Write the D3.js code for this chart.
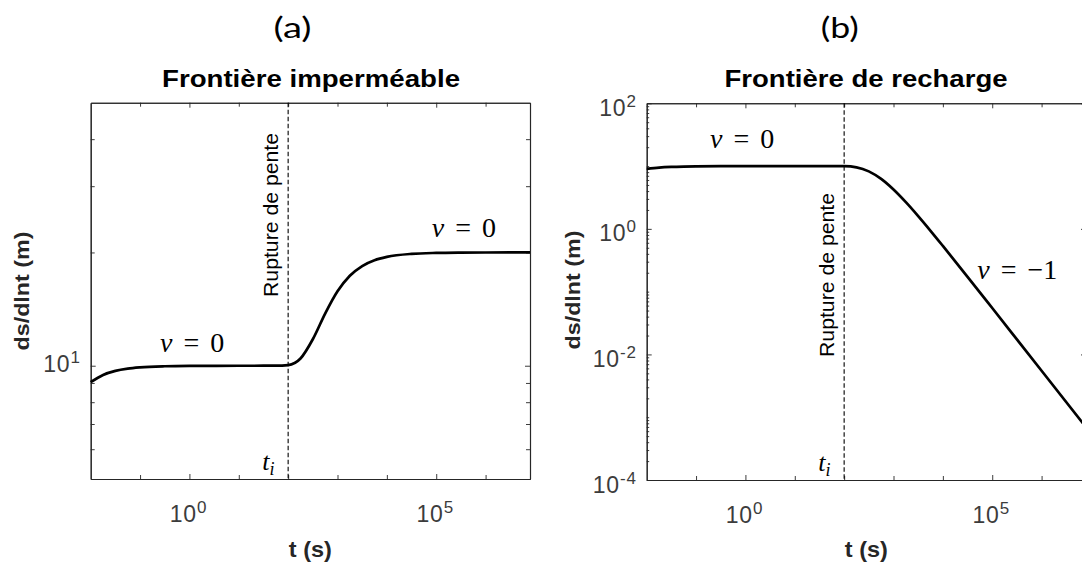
<!DOCTYPE html>
<html>
<head>
<meta charset="utf-8">
<script src="https://cdn.jsdelivr.net/npm/d3@7"></script>
<style>
  html, body { margin: 0; padding: 0; background: #ffffff; }
  svg { display: block; }
</style>
</head>
<body>
<svg id="chart" width="1082" height="564"></svg>
<script>
// ---------------- DATA ----------------
// time in seconds (log-spaced samples)
const times = [0.01, 0.0178, 0.0316, 0.0562, 0.1, 0.316, 1, 10, 31.6, 56.2, 100, 178, 316, 562,
               1000, 1778, 3162, 5623, 10000, 31623, 100000, 316228, 1000000, 7940000];
// (a) impermeable boundary : ds/dlnt (m)
const dsImpermeable = [9.048, 9.453, 9.689, 9.824, 9.900, 9.968, 9.990, 9.999, 10.000, 10.001, 10.041, 10.454, 11.757, 13.76,
                       15.769, 17.34, 18.404, 19.068, 19.465, 19.828, 19.945, 19.983, 19.9945, 19.9993];
// (b) recharge boundary : ds/dlnt (m)
const dsRecharge = [9.048, 9.453, 9.689, 9.824, 9.900, 9.968, 9.990, 9.999, 10.000, 9.999, 9.959, 9.546, 8.243, 6.24,
                    4.231, 2.660, 1.596, 0.932, 0.535, 0.1724, 0.05485, 0.017375, 0.0054985, 0.0006924];
// slope break time t_i
const breakTime = [100];
// axis domains
const xDomain = [0.01, 7940000];
const yDomainA = [5, 50];
const yDomainB = [0.0001, 100];
// tick values / labels (exponents of 10)
const xMajorExp = [0, 5];
const xMinorTicks = [0.1, 10, 100, 1000, 10000, 1000000];
const yMajorExpA = [1];
const yMinorTicksA = [6, 7, 8, 9, 20, 30, 40];
const yMajorExpB = [-4, -2, 0, 2];
// texts
const panelLetters = ["(a)", "(b)"];
const panelTitles = ["Frontière imperméable", "Frontière de recharge"];
const xLabel = "t (s)";
const yLabel = "ds/dlnt (m)";
const breakLabel = "Rupture de pente";

// ---------------- DRAWING ----------------
const svg = d3.select("#chart");
const AX = "#262626";
const TICKCOL = "#3c3c3c";
const SANS = "Arial, 'Liberation Sans', Helvetica, sans-serif";
const SERIF = "'Liberation Serif', 'Times New Roman', 'DejaVu Serif', serif";

function drawPanel(cfg) {
  const g = svg.append("g");
  const x = d3.scaleLog().domain(xDomain).range([cfg.left, cfg.left + cfg.width]);
  const y = d3.scaleLog().domain(cfg.yDomain).range([cfg.bottom, cfg.top]);
  const xMajor = xMajorExp.map(e => Math.pow(10, e));
  const yMajor = cfg.yMajorExp.map(e => Math.pow(10, e));

  function styleAxis(sel) {
    sel.selectAll("path.domain").attr("stroke", AX).attr("stroke-width", 1.1);
    sel.selectAll(".tick line").attr("stroke", AX).attr("stroke-width", 0.9);
    sel.selectAll(".tick text").remove();
  }
  // bottom & top
  [[d3.axisBottom, cfg.bottom], [d3.axisTop, cfg.top]].forEach(([fn, pos]) => {
    g.append("g").attr("transform", `translate(0,${pos})`)
      .call(fn(x).tickValues(xMajor).tickSize(-5).tickSizeOuter(0).tickFormat(""))
      .call(styleAxis);
    g.append("g").attr("transform", `translate(0,${pos})`)
      .call(fn(x).tickValues(xMinorTicks).tickSize(-4).tickSizeOuter(0).tickFormat(""))
      .call(styleAxis);
  });
  // left & right
  [[d3.axisLeft, cfg.left], [d3.axisRight, cfg.left + cfg.width]].forEach(([fn, pos]) => {
    g.append("g").attr("transform", `translate(${pos},0)`)
      .call(fn(y).tickValues(yMajor).tickSize(-5).tickSizeOuter(0).tickFormat(""))
      .call(styleAxis);
    g.append("g").attr("transform", `translate(${pos},0)`)
      .call(fn(y).tickValues(cfg.yMinor).tickSize(cfg.minorLen).tickSizeOuter(0).tickFormat(""))
      .call(styleAxis);
  });

  // x tick labels
  xMajorExp.forEach(e => {
    const t = g.append("text")
      .attr("x", x(Math.pow(10, e)) - 1).attr("y", cfg.bottom + 43)
      .attr("text-anchor", "middle")
      .style("font-family", SANS).style("font-size", "23px")
      .attr("fill", TICKCOL).attr("letter-spacing", 0.8);
    t.append("tspan").text("10");
    t.append("tspan").style("font-size", "17px").attr("dy", -9).text(String(e));
  });
  // y tick labels
  cfg.yMajorExp.forEach(e => {
    const t = g.append("text")
      .attr("x", cfg.left - 10).attr("y", y(Math.pow(10, e)) + cfg.yLabelShift)
      .attr("text-anchor", "end")
      .style("font-family", SANS).style("font-size", "23px")
      .attr("fill", TICKCOL).attr("letter-spacing", 0.8);
    t.append("tspan").text("10");
    t.append("tspan").style("font-size", "17px").attr("dy", -9).text(String(e));
  });

  // dashed slope-break line
  g.append("line")
    .attr("x1", x(breakTime[0])).attr("x2", x(breakTime[0]))
    .attr("y1", cfg.top).attr("y2", cfg.bottom)
    .attr("stroke", "#000").attr("stroke-width", 1.1)
    .attr("stroke-dasharray", "4.5,2.5");

  // curve
  const pts = times.map((t, i) => ({ t: t, v: cfg.values[i] }));
  g.append("path").datum(pts)
    .attr("fill", "none").attr("stroke", "#000").attr("stroke-width", 2.7)
    .attr("stroke-linejoin", "round")
    .attr("d", d3.line().x(d => x(d.t)).y(d => y(d.v)).curve(d3.curveMonotoneX));

  // panel letter
  svg.append("text").attr("x", cfg.letterX).attr("y", 37.5)
    .attr("text-anchor", "middle").style("font-family", "Lato, 'Open Sans', sans-serif")
    .style("font-size", "29px").attr("fill", "#000")
    .attr("textLength", 38).attr("lengthAdjust", "spacingAndGlyphs")
    .text(cfg.letter);
  // title
  svg.append("text").attr("x", cfg.titleX).attr("y", 87)
    .attr("text-anchor", "middle").style("font-family", SANS)
    .style("font-weight", "bold").style("font-size", "24px").attr("fill", "#000")
    .attr("textLength", cfg.titleLen).attr("lengthAdjust", "spacingAndGlyphs")
    .text(cfg.title);
  // x label
  svg.append("text").attr("x", cfg.left + cfg.width / 2).attr("y", 557)
    .attr("text-anchor", "middle").style("font-family", SANS)
    .style("font-weight", "bold").style("font-size", "22px").attr("fill", AX)
    .attr("textLength", 43).attr("lengthAdjust", "spacingAndGlyphs")
    .text(xLabel);
  // y label
  svg.append("text")
    .attr("transform", `translate(${cfg.yLabelX},${cfg.yLabelY}) rotate(-90)`)
    .attr("text-anchor", "middle").style("font-family", SANS)
    .style("font-weight", "bold").style("font-size", "21px").attr("fill", AX)
    .attr("textLength", 119).attr("lengthAdjust", "spacingAndGlyphs")
    .text(yLabel);
  // rupture label
  svg.append("text")
    .attr("transform", `translate(${x(breakTime[0]) - 10.5},${cfg.breakY}) rotate(-90)`)
    .attr("text-anchor", "middle").style("font-family", SANS)
    .style("font-size", "20px").attr("fill", "#000")
    .attr("textLength", 164).attr("lengthAdjust", "spacingAndGlyphs")
    .text(breakLabel);
  // t_i
  const ti = svg.append("text")
    .attr("x", x(breakTime[0]) - 26).attr("y", cfg.bottom - 9)
    .style("font-family", SERIF).style("font-style", "italic").attr("fill", "#000");
  ti.append("tspan").style("font-size", "26px").text("t");
  ti.append("tspan").style("font-size", "18px").attr("dy", 5).text("i");

  // slope labels
  cfg.slopes.forEach(s => {
    const t = svg.append("text").attr("x", s.x).attr("y", s.y)
      .style("font-family", SERIF).style("font-size", "28px").attr("fill", "#000");
    t.append("tspan").style("font-style", "italic").text("v");
    t.append("tspan").attr("dx", 11).text("=");
    t.append("tspan").attr("dx", 11).text(s.val);
  });
}

const yMinorB = d3.scaleLog().domain(yDomainB).ticks()
  .filter(v => !yMajorExpB.some(e => Math.abs(Math.log10(v) - e) < 1e-9));

drawPanel({
  left: 90.7, width: 439.3, top: 102.7, bottom: 479,
  yDomain: yDomainA, yMajorExp: yMajorExpA, yMinor: yMinorTicksA, minorLen: -4,
  yLabelShift: 6,
  values: dsImpermeable,
  letter: panelLetters[0], letterX: 292.5,
  title: panelTitles[0], titleX: 311, titleLen: 298,
  yLabelX: 29, yLabelY: 291,
  breakY: 215,
  slopes: [ { x: 160, y: 351.7, val: "0" }, { x: 431.7, y: 236.7, val: "0" } ]
});

drawPanel({
  left: 646.7, width: 439.3, top: 103.3, bottom: 480,
  yDomain: yDomainB, yMajorExp: yMajorExpB, yMinor: yMinorB, minorLen: -2.5,
  yLabelShift: 12.5,
  values: dsRecharge,
  letter: panelLetters[1], letterX: 839.7,
  title: panelTitles[1], titleX: 866, titleLen: 283,
  yLabelX: 580, yLabelY: 290,
  breakY: 275,
  slopes: [ { x: 710, y: 148.3, val: "0" }, { x: 977.3, y: 279, val: "\u22121" } ]
});
</script>
</body>
</html>
